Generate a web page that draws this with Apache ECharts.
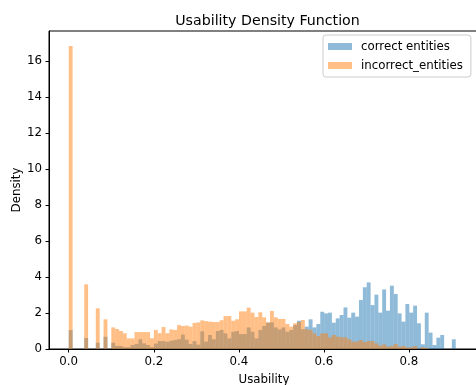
<!DOCTYPE html>
<html>
<head>
<meta charset="utf-8">
<script src="https://cdn.jsdelivr.net/npm/echarts@6/dist/echarts.min.js"></script>
<style>
  html, body { margin: 0; padding: 0; background: #fff; }
  #chart { width: 476px; height: 385px; }
</style>
</head>
<body>
<div id="chart"></div>
<script>
// Histogram bins: 100 equal-width bins starting at 0
const BIN_START = 0;
const BIN_WIDTH = 0.0091;

// Density per bin for each group
const correctDensity = [
  1.05, 0, 0, 0, 0.61, 0, 0, 0.35, 0, 0.68,
  0, 0.35, 0.17, 0.17, 0.1, 0.1, 0.22, 0.28, 0.54, 0.31,
  0.22, 0.1, 0.3, 0.44, 0.44, 0.4, 0.46, 0.5, 0.54, 0.8,
  0.52, 0.28, 0.44, 0.24, 0.98, 0.41, 0.78, 0.54, 1.0, 1.06,
  0.87, 0.59, 0.96, 1.0, 0.83, 0.83, 1.2, 0.96, 0.59, 1.06,
  1.28, 1.46, 1.48, 1.2, 1.09, 1.2, 0.96, 1.06, 1.33, 1.57,
  1.1, 1.24, 1.65, 1.2, 1.39, 2.07, 1.98, 2.02, 1.46, 1.7,
  1.89, 2.31, 1.74, 2.02, 1.8, 2.72, 3.43, 3.7, 2.44, 3.02,
  2.02, 3.31, 2.13, 3.52, 3.06, 1.98, 1.52, 2.5, 2.02, 2.41,
  1.43, 0.26, 2.02, 0.91, 0.22, 0.63, 0.78, 0, 0, 0.54
];
const incorrectDensity = [
  16.83, 0, 0, 0, 3.59, 0, 0, 2.26, 0, 1.65,
  0, 1.2, 1.11, 1.0, 0.87, 0.59, 0.59, 0.94, 0.94, 0.94,
  0.94, 0.6, 1.06, 0.88, 1.22, 0.88, 1.09, 1.06, 1.33, 1.28,
  1.3, 1.24, 1.45, 1.48, 1.59, 1.55, 1.52, 1.5, 1.5, 1.6,
  1.83, 1.83, 1.57, 1.65, 2.09, 2.09, 2.3, 2.02, 1.78, 2.04,
  1.76, 1.48, 2.11, 1.76, 1.67, 1.67, 1.39, 1.24, 1.43, 1.5,
  1.61, 1.1, 1.06, 0.87, 0.72, 0.87, 0.87, 0.65, 0.78, 0.69,
  0.65, 0.65, 0.54, 0.41, 0.41, 0.5, 0.39, 0.44, 0.44, 0.31,
  0.19, 0.26, 0.13, 0.17, 0.28, 0.13, 0.17, 0.09, 0.09, 0.17,
  0.02, 0.09, 0.06, 0, 0, 0, 0, 0, 0, 0
];

const xTicks = [0, 0.2, 0.4, 0.6, 0.8];
const yTicks = [0, 2, 4, 6, 8, 10, 12, 14, 16];

const seriesNames = ['correct entities', 'incorrect_entities'];
const seriesColors = ['rgba(31,119,180,0.5)', 'rgba(255,127,14,0.5)'];

function toBins(values) {
  return values.map((v, i) => [BIN_START + i * BIN_WIDTH, BIN_START + (i + 1) * BIN_WIDTH, v]);
}

function histRenderer(color) {
  return function (params, api) {
    const h = api.value(2);
    if (!h) return null;
    const topLeft = api.coord([api.value(0), h]);
    const bottomRight = api.coord([api.value(1), 0]);
    return {
      type: 'rect',
      shape: {
        x: topLeft[0],
        y: topLeft[1],
        width: bottomRight[0] - topLeft[0],
        height: bottomRight[1] - topLeft[1]
      },
      style: { fill: color }
    };
  };
}

const FONT = 'DejaVu Sans';
const BASE = 11.8;

const chart = echarts.init(document.getElementById('chart'), null, { renderer: 'canvas' });
chart.setOption({
  animation: false,
  backgroundColor: '#ffffff',
  textStyle: { fontFamily: FONT, color: '#000' },
  title: {
    text: 'Usability Density Function',
    left: 262.5,
    top: 9,
    textAlign: 'center',
    textStyle: { fontFamily: FONT, fontSize: 14.2, fontWeight: 'normal', color: '#000' }
  },
  legend: {
    orient: 'vertical',
    left: 323,
    top: 35,
    selectedMode: false,
    icon: 'rect',
    itemWidth: 24,
    itemHeight: 7,
    itemGap: 5,
    padding: [4.5, 8, 4.5, 5],
    backgroundColor: 'rgba(255,255,255,0.8)',
    borderColor: '#cccccc',
    borderWidth: 1,
    borderRadius: 3,
    textStyle: { fontFamily: FONT, fontSize: BASE, color: '#000', lineHeight: 14, padding: [0, 0, 0, 4] },
    data: seriesNames
  },
  grid: {
    left: 49,
    top: 31,
    width: 430,
    height: 318,
    outerBoundsMode: 'none',
    containLabel: false,
    show: true,
    borderColor: '#000',
    borderWidth: 1,
    backgroundColor: 'transparent'
  },
  xAxis: {
    type: 'value',
    min: -0.0464,
    max: 0.9647,
    name: 'Usability',
    nameLocation: 'middle',
    nameGap: 25,
    nameMoveOverlap: false,
    nameTextStyle: { fontFamily: FONT, fontSize: BASE, color: '#000' },
    axisLine: { show: true, onZero: false, lineStyle: { color: '#000', width: 1 } },
    axisTick: { show: true, length: 3.5, lineStyle: { color: '#000', width: 1 }, customValues: xTicks },
    axisLabel: {
      fontFamily: FONT, fontSize: BASE, color: '#000', margin: 7,
      customValues: xTicks,
      formatter: v => v.toFixed(1)
    },
    splitLine: { show: false }
  },
  yAxis: {
    type: 'value',
    min: 0,
    max: 17.67,
    name: 'Density',
    nameLocation: 'middle',
    nameGap: 26,
    nameRotate: 90,
    nameMoveOverlap: false,
    nameTextStyle: { fontFamily: FONT, fontSize: BASE, color: '#000' },
    axisLine: { show: true, onZero: false, lineStyle: { color: '#000', width: 1 } },
    axisTick: { show: true, length: 3.5, lineStyle: { color: '#000', width: 1 }, customValues: yTicks },
    axisLabel: {
      fontFamily: FONT, fontSize: BASE, color: '#000', margin: 7,
      customValues: yTicks
    },
    splitLine: { show: false }
  },
  series: [
    {
      name: seriesNames[0],
      type: 'custom',
      itemStyle: { color: seriesColors[0] },
      renderItem: histRenderer(seriesColors[0]),
      encode: { x: [0, 1], y: 2 },
      data: toBins(correctDensity),
      z: 2
    },
    {
      name: seriesNames[1],
      type: 'custom',
      itemStyle: { color: seriesColors[1] },
      renderItem: histRenderer(seriesColors[1]),
      encode: { x: [0, 1], y: 2 },
      data: toBins(incorrectDensity),
      z: 3
    }
  ]
});
</script>
</body>
</html>
